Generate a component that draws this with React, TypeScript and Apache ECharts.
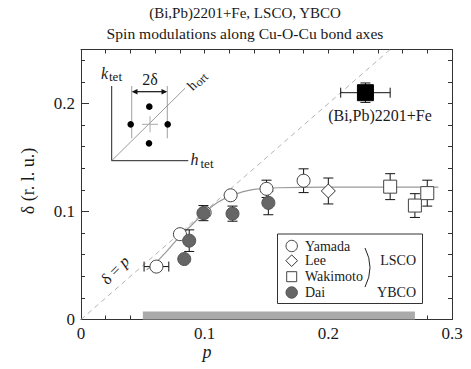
import React, { useEffect, useRef } from "react";
import * as echarts from "echarts";

// ---------- data ----------
const yamadaP = [0.061, 0.08, 0.1, 0.121, 0.15, 0.18];
const yamadaDelta = [0.049, 0.079, 0.099, 0.115, 0.121, 0.1285];
const yamadaPErr = [0.01, 0, 0, 0, 0, 0];
const yamadaDeltaErr = [0, 0, 0, 0, 0.008, 0.011];

const leeP = [0.2];
const leeDelta = [0.119];
const leeDeltaErr = [0.012];

const wakimotoP = [0.25, 0.27, 0.28];
const wakimotoDelta = [0.123, 0.1055, 0.117];
const wakimotoDeltaErr = [0.012, 0.011, 0.012];

const daiP = [0.0835, 0.0875, 0.099, 0.1225, 0.1515];
const daiDelta = [0.056, 0.073, 0.0985, 0.098, 0.108];
const daiDeltaErr = [0, 0.01, 0.007, 0.007, 0.011];

const biP = [0.23];
const biDelta = [0.21];
const biPErr = [0.02];
const biDeltaErr = [0.009];

const fitP = [0.053, 0.06, 0.07, 0.08, 0.09, 0.1, 0.11, 0.12, 0.13, 0.14, 0.16, 0.2, 0.289];
const fitDelta = [0.046, 0.052, 0.064, 0.077, 0.088, 0.099, 0.108, 0.114, 0.118, 0.1205, 0.122, 0.1225, 0.1225];

const guideP = [0, 0.25]; // delta = p
const dopingRange = [0.05, 0.27];

const xTickLabels = ["0", "0.1", "0.2", "0.3"];
const yTickLabels = ["0", "0.1", "0.2"];

const titleLines = ["(Bi,Pb)2201+Fe, LSCO, YBCO", "Spin modulations along Cu-O-Cu bond axes"];
const legendNames = ["Yamada", "Lee", "Wakimoto", "Dai"];

// ---------- helpers ----------
const FONT = "'Liberation Serif', 'Times New Roman', serif";
const INK = "#1a1a1a";

const zip = (...cols: number[][]) => cols[0].map((_, i) => cols.map((c) => c[i]));

const labelFor = (labels: string[]) => (v: number) => {
  const k = Math.round(v * 10);
  if (Math.abs(v * 10 - k) > 1e-6) return "";
  return labels[k] ?? "";
};

const errorRender = (params: any, api: any) => {
  const x = api.value(0);
  const y = api.value(1);
  const xe = api.value(2);
  const ye = api.value(3);
  const st = { stroke: "#111", lineWidth: 1 };
  const cap = 5;
  const children: any[] = [];
  if (ye > 0) {
    const t = api.coord([x, y + ye]);
    const b = api.coord([x, y - ye]);
    children.push({ type: "line", shape: { x1: t[0], y1: t[1], x2: b[0], y2: b[1] }, style: st });
    children.push({ type: "line", shape: { x1: t[0] - cap, y1: t[1], x2: t[0] + cap, y2: t[1] }, style: st });
    children.push({ type: "line", shape: { x1: b[0] - cap, y1: b[1], x2: b[0] + cap, y2: b[1] }, style: st });
  }
  if (xe > 0) {
    const l = api.coord([x - xe, y]);
    const r = api.coord([x + xe, y]);
    children.push({ type: "line", shape: { x1: l[0], y1: l[1], x2: r[0], y2: r[1] }, style: st });
    children.push({ type: "line", shape: { x1: l[0], y1: l[1] - cap, x2: l[0], y2: l[1] + cap }, style: st });
    children.push({ type: "line", shape: { x1: r[0], y1: r[1] - cap, x2: r[0], y2: r[1] + cap }, style: st });
  }
  return { type: "group", children };
};

const errSeries = (data: number[][]) => ({
  type: "custom",
  renderItem: errorRender,
  data,
  encode: { x: 0, y: 1 },
  z: 3,
  silent: true,
});

const zeros = (n: number) => new Array(n).fill(0);

const axisLineStyle = { color: "#333", width: 1 };

function buildOption() {
  const xBase = {
    type: "value",
    min: 0,
    max: 0.3,
    interval: 0.1,
    splitLine: { show: false },
    minorSplitLine: { show: false },
    axisLine: { show: true, onZero: false, lineStyle: axisLineStyle },
  };
  const yBase = {
    type: "value",
    min: 0,
    max: 0.25,
    splitLine: { show: false },
    minorSplitLine: { show: false },
  };

  const t = (x: number, y: number, text: string, size: number, extra: any = {}) => ({
    type: "text",
    x,
    y,
    silent: true,
    style: {
      text,
      fill: INK,
      fontSize: size,
      fontFamily: FONT,
      textAlign: "center",
      textVerticalAlign: "middle",
      ...(extra.style || {}),
    },
    ...(extra.el || {}),
  });
  const ln = (x1: number, y1: number, x2: number, y2: number, stroke = "#222", lineWidth = 1) => ({
    type: "line",
    silent: true,
    shape: { x1, y1, x2, y2 },
    style: { stroke, lineWidth },
  });

  const graphic: any[] = [
    // title
    t(245, 13, titleLines[0], 15),
    t(245, 33, titleLines[1], 15.6),
    // axis names
    t(28, 181, "\u03b4 (r. l. u.)", 18, { el: { rotation: Math.PI / 2 } }),
    t(207, 352, "p", 18, { style: { fontStyle: "italic" } }),
    // delta = p label
    {
      type: "text",
      x: 115,
      y: 270,
      rotation: Math.PI / 4,
      silent: true,
      style: {
        text: "{a|\u03b4 = }{b|p}",
        textAlign: "center",
        textVerticalAlign: "middle",
        fill: INK,
        rich: {
          a: { fontSize: 16, fontFamily: FONT, fill: INK },
          b: { fontSize: 16, fontFamily: FONT, fontStyle: "italic", fill: INK },
        },
      },
    },
    // Bi2201 label
    t(380, 115, "(Bi,Pb)2201+Fe", 16),

    // ---- inset ----
    ln(111.7, 86, 111.7, 160.7, "#222", 1),
    ln(111.7, 160.7, 188.3, 160.7, "#222", 1),
    ln(111.7, 160.7, 185, 88.3, "#555", 0.6),
    ln(131.7, 86, 131.7, 138.3, "#888", 0.8),
    ln(167.3, 86, 167.3, 138.3, "#888", 0.8),
    ln(142, 124.3, 158, 124.3, "#aaa", 1),
    ln(150, 116.3, 150, 132.3, "#aaa", 1),
    ln(134, 91.7, 165, 91.7, "#111", 1.2),
    {
      type: "polygon",
      silent: true,
      shape: { points: [[131.7, 91.7], [137.5, 89], [137.5, 94.4]] },
      style: { fill: "#111" },
    },
    {
      type: "polygon",
      silent: true,
      shape: { points: [[167.3, 91.7], [161.5, 89], [161.5, 94.4]] },
      style: { fill: "#111" },
    },
    { type: "circle", silent: true, shape: { cx: 149.3, cy: 106.7, r: 3.3 }, style: { fill: "#000" } },
    { type: "circle", silent: true, shape: { cx: 130.7, cy: 124.3, r: 3.3 }, style: { fill: "#000" } },
    { type: "circle", silent: true, shape: { cx: 167.7, cy: 124.3, r: 3.3 }, style: { fill: "#000" } },
    { type: "circle", silent: true, shape: { cx: 149, cy: 143.3, r: 3.3 }, style: { fill: "#000" } },
    t(150, 79, "2\u03b4", 16),
    t(104.5, 73, "k", 16, { style: { fontStyle: "italic" } }),
    t(115.5, 76.5, "tet", 13),
    t(194.5, 159.5, "h", 16, { style: { fontStyle: "italic" } }),
    t(207, 163.5, "tet", 13),
    {
      type: "group",
      x: 189.5,
      y: 88,
      rotation: Math.PI / 4,
      silent: true,
      children: [
        { type: "text", x: 0, y: 0, style: { text: "h", fontSize: 14, fontFamily: FONT, fill: INK, textAlign: "left", textVerticalAlign: "middle" } },
        { type: "text", x: 7.5, y: 2.5, style: { text: "ort", fontSize: 12, fontFamily: FONT, fill: INK, textAlign: "left", textVerticalAlign: "middle" } },
      ],
    },

    // ---- legend ----
    {
      type: "rect",
      silent: true,
      shape: { x: 277.5, y: 234, width: 145, height: 69.5 },
      style: { fill: "#fff", stroke: "#333", lineWidth: 1 },
      z: 10,
    },
    { type: "circle", z: 11, silent: true, shape: { cx: 291.7, cy: 246, r: 5.7 }, style: { fill: "#fff", stroke: "#444", lineWidth: 1 } },
    {
      type: "polygon",
      z: 11,
      silent: true,
      shape: { points: [[291.7, 254.9], [297.5, 260.7], [291.7, 266.5], [285.9, 260.7]] },
      style: { fill: "#fff", stroke: "#333", lineWidth: 1 },
    },
    { type: "rect", z: 11, silent: true, shape: { x: 286.7, y: 271.7, width: 10, height: 10 }, style: { fill: "#fff", stroke: "#444", lineWidth: 1 } },
    { type: "circle", z: 11, silent: true, shape: { cx: 291.7, cy: 292.5, r: 5.7 }, style: { fill: "#666", stroke: "#555", lineWidth: 1 } },
    ...legendNames.map((n, i) => ({
      type: "text",
      z: 11,
      silent: true,
      x: 305,
      y: [246, 260.7, 276.7, 292.5][i],
      style: { text: n, fill: INK, fontSize: 14, fontFamily: FONT, textAlign: "left", textVerticalAlign: "middle" },
    })),
    {
      type: "bezierCurve",
      z: 11,
      silent: true,
      shape: { x1: 365, y1: 248, x2: 365, y2: 287, cpx1: 375, cpy1: 267.5 },
      style: { stroke: "#222", lineWidth: 1, fill: "none" },
    },
    {
      type: "text", z: 11, silent: true, x: 416, y: 260.7,
      style: { text: "LSCO", fill: INK, fontSize: 14, fontFamily: FONT, textAlign: "right", textVerticalAlign: "middle" },
    },
    {
      type: "text", z: 11, silent: true, x: 416, y: 292.5,
      style: { text: "YBCO", fill: INK, fontSize: 14, fontFamily: FONT, textAlign: "right", textVerticalAlign: "middle" },
    },
  ];

  return {
    animation: false,
    backgroundColor: "#fff",
    textStyle: { fontFamily: FONT },
    grid: { left: 81, top: 49.5, width: 371, height: 270, containLabel: false },
    xAxis: [
      {
        ...xBase,
        position: "bottom",
        axisTick: { show: true, inside: true, length: 7, lineStyle: axisLineStyle },
        minorTick: { show: true, splitNumber: 5, length: 4, lineStyle: axisLineStyle },
        axisLabel: {
          formatter: labelFor(xTickLabels),
          fontSize: 17,
          fontFamily: FONT,
          color: INK,
          margin: 5,
        },
      },
      {
        ...xBase,
        position: "top",
        axisTick: { show: true, inside: true, length: 4, lineStyle: axisLineStyle },
        minorTick: { show: true, splitNumber: 5, length: 4, lineStyle: axisLineStyle },
        axisLabel: { show: false },
      },
    ],
    yAxis: [
      {
        ...yBase,
        position: "left",
        interval: 0.1,
        axisLine: { show: true, onZero: false, lineStyle: axisLineStyle },
        axisTick: { show: true, inside: true, length: 8, lineStyle: axisLineStyle },
        axisLabel: {
          formatter: labelFor(yTickLabels),
          fontSize: 17,
          fontFamily: FONT,
          color: INK,
          margin: 6,
        },
      },
      {
        ...yBase,
        position: "left",
        interval: 0.02,
        axisLine: { show: false },
        axisTick: { show: true, inside: true, length: 4, lineStyle: axisLineStyle },
        axisLabel: { show: false },
      },
      {
        ...yBase,
        position: "right",
        interval: 0.02,
        axisLine: { show: true, onZero: false, lineStyle: axisLineStyle },
        axisTick: { show: true, inside: true, length: 4, lineStyle: axisLineStyle },
        axisLabel: { show: false },
      },
    ],
    series: [
      {
        type: "custom",
        silent: true,
        data: [[dopingRange[0], dopingRange[1], 0]],
        encode: { x: [0, 1], y: 2 },
        z: 1,
        renderItem: (params: any, api: any) => {
          const a = api.coord([api.value(0), 0]);
          const b = api.coord([api.value(1), 0]);
          return {
            type: "rect",
            shape: { x: a[0], y: a[1] - 8, width: b[0] - a[0], height: 8 },
            style: { fill: "#aaa" },
          };
        },
      },
      {
        type: "line",
        data: zip(guideP, guideP),
        symbol: "none",
        silent: true,
        z: 1,
        lineStyle: { color: "#aaa", width: 0.9, type: [5, 4] },
      },
      {
        type: "line",
        data: zip(fitP, fitDelta),
        symbol: "none",
        smooth: 0.4,
        silent: true,
        z: 2,
        lineStyle: { color: "#999", width: 1.2 },
      },
      errSeries(zip(yamadaP, yamadaDelta, yamadaPErr, yamadaDeltaErr)),
      errSeries(zip(leeP, leeDelta, zeros(leeP.length), leeDeltaErr)),
      errSeries(zip(wakimotoP, wakimotoDelta, zeros(wakimotoP.length), wakimotoDeltaErr)),
      errSeries(zip(daiP, daiDelta, zeros(daiP.length), daiDeltaErr)),
      errSeries(zip(biP, biDelta, biPErr, biDeltaErr)),
      {
        name: "Yamada",
        type: "scatter",
        data: zip(yamadaP, yamadaDelta),
        symbol: "circle",
        symbolSize: 13,
        z: 4,
        itemStyle: { color: "#fff", borderColor: "#444", borderWidth: 1, opacity: 1 },
      },
      {
        name: "Lee",
        type: "scatter",
        data: zip(leeP, leeDelta),
        symbol: "diamond",
        symbolSize: 14,
        z: 4,
        itemStyle: { color: "#fff", borderColor: "#333", borderWidth: 1, opacity: 1 },
      },
      {
        name: "Wakimoto",
        type: "scatter",
        data: zip(wakimotoP, wakimotoDelta),
        symbol: "rect",
        symbolSize: 13,
        z: 4,
        itemStyle: { color: "#fff", borderColor: "#444", borderWidth: 1, opacity: 1 },
      },
      {
        name: "Dai",
        type: "scatter",
        data: zip(daiP, daiDelta),
        symbol: "circle",
        symbolSize: 13,
        z: 5,
        itemStyle: { color: "#666", borderColor: "#555", borderWidth: 1, opacity: 1 },
      },
      {
        name: "(Bi,Pb)2201+Fe",
        type: "scatter",
        data: zip(biP, biDelta),
        symbol: "rect",
        symbolSize: 16,
        z: 5,
        itemStyle: { color: "#000", borderColor: "#000", borderWidth: 1, opacity: 1 },
      },
    ],
    graphic,
  };
}

export default function App() {
  const ref = useRef<HTMLDivElement>(null);
  useEffect(() => {
    if (!ref.current) return;
    const chart = echarts.init(ref.current, null, { renderer: "svg" });
    chart.setOption(buildOption() as any);
    return () => chart.dispose();
  }, []);
  return (
    <div
      ref={ref}
      style={{ position: "fixed", left: 0, top: 0, width: 471, height: 369, background: "#fff" }}
    />
  );
}
